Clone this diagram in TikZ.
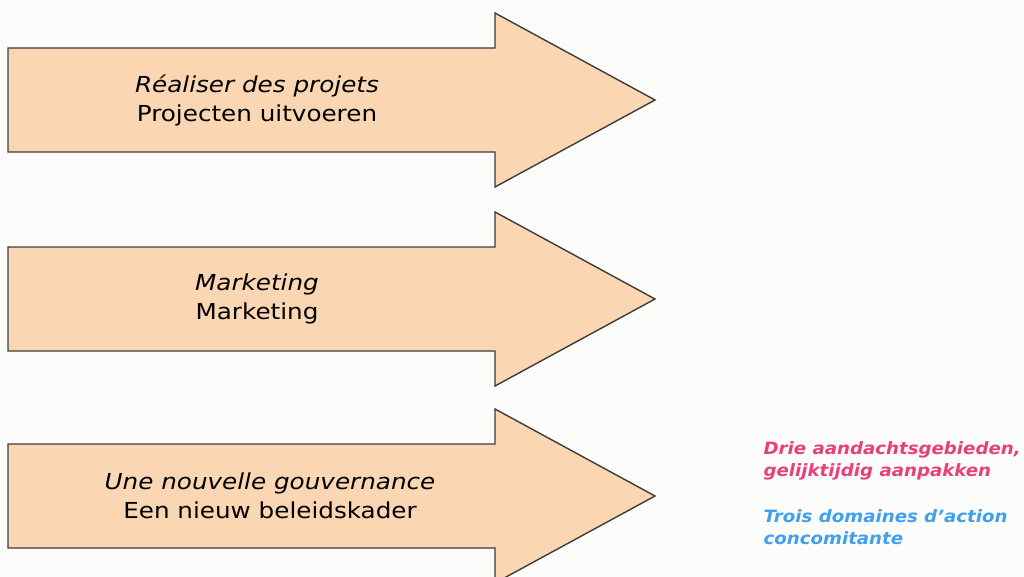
\documentclass[tikz,border=0pt]{standalone}
\usepackage{fontspec}
\setmainfont{DejaVu Sans}
\newfontfamily\widefont[FakeStretch=1.12]{DejaVu Sans}
\newfontfamily\notefont[FakeStretch=1.07]{DejaVu Sans}
\usepackage{tikz}

\definecolor{peach}{RGB}{250,214,178}
\definecolor{rim}{RGB}{60,60,60}
\definecolor{rose}{RGB}{232,64,122}
\definecolor{sky}{RGB}{64,160,238}
\definecolor{paper}{RGB}{252,252,250}

\begin{document}
\begin{tikzpicture}[x=1pt,y=-1pt,
  bigarrow/.style={fill=peach,draw=rim,line width=1.4pt,line join=miter},
  arrowtext/.style={align=center,font=\widefont\fontsize{22}{29}\selectfont},
  sidenote/.style={anchor=north west,align=left,font=\notefont\fontsize{17}{22}\selectfont\bfseries\itshape}]
\useasboundingbox (0,0) rectangle (1024,577);
\clip (0,0) rectangle (1024,577);
\fill[paper] (0,0) rectangle (1024,577);

% arrows
\draw[bigarrow] (8,48) -- (495,48) -- (495,13) -- (655,100) -- (495,187) -- (495,152) -- (8,152) -- cycle;
\draw[bigarrow] (8,247) -- (495,247) -- (495,212) -- (655,299) -- (495,386) -- (495,351) -- (8,351) -- cycle;
\draw[bigarrow] (8,444) -- (495,444) -- (495,409) -- (655,496) -- (495,583) -- (495,548) -- (8,548) -- cycle;

\node[arrowtext] (projets) at (257,100) {\textit{Réaliser des projets}\\Projecten uitvoeren};
\node[arrowtext] (marketing) at (257,299) {\textit{Marketing}\\Marketing};
\node[arrowtext] (gouvernance) at (270,496) {\textit{Une nouvelle gouvernance}\\Een nieuw beleidskader};

% side notes
\node[sidenote,text=rose] (drie) at (760,438) {Drie aandachtsgebieden,\\gelijktijdig aanpakken};
\node[sidenote,text=sky] (trois) at (760,506) {Trois domaines d’action\\concomitante};

\end{tikzpicture}
\end{document}
